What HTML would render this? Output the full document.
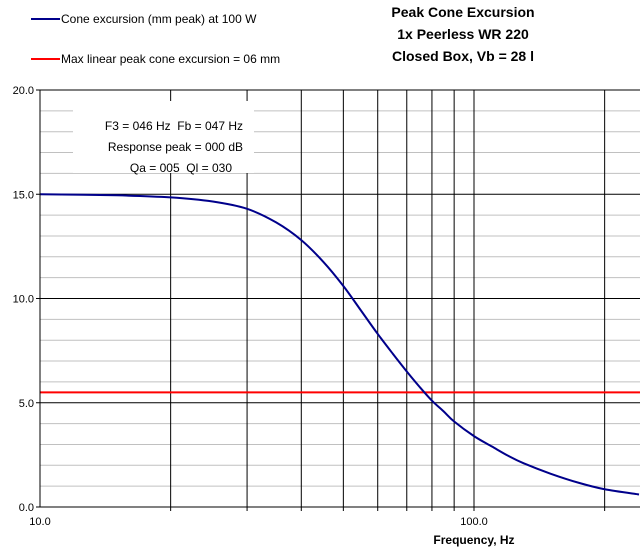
<!DOCTYPE html>
<html><head><meta charset="utf-8"><style>
html,body{margin:0;padding:0;background:#fff;}
svg{display:block;font-family:"Liberation Sans",Arial,sans-serif;}
text{white-space:pre;}
</style></head><body>
<svg id="chart" width="640" height="551" viewBox="0 0 640 551" xmlns="http://www.w3.org/2000/svg" xml:space="preserve">
<g>
<line x1="31" y1="19" x2="60" y2="19" stroke="#00008b" stroke-width="2"/>
<text x="61" y="23" font-size="12">Cone excursion (mm peak) at 100 W</text>
<line x1="31" y1="59" x2="60" y2="59" stroke="#ff0000" stroke-width="2"/>
<text x="61" y="63" font-size="12">Max linear peak cone excursion = 06 mm</text>
</g>
<g font-size="14" font-weight="bold" text-anchor="middle">
<text x="463" y="17">Peak Cone Excursion</text>
<text x="463" y="39">1x Peerless WR 220</text>
<text x="463" y="61">Closed Box, Vb = 28 l</text>
</g>
<g id="grid"></g>
<rect x="73" y="101" width="181" height="72" fill="#fff"/>
<g font-size="12" text-anchor="end">
<text x="243" y="130">F3 = 046 Hz  Fb = 047 Hz</text>
<text x="243" y="151">Response peak = 000 dB</text>
<text x="232" y="172">Qa = 005  Ql = 030</text>
</g>
<g id="series"></g>
<g id="axes"></g>
<text x="474" y="544" font-size="12" font-weight="bold" text-anchor="middle">Frequency, Hz</text>
</svg>
<script>
const freqs = [10,15,20,25,30,35,40,45,50,55,60,65,70,75,80,85,90,100,110,120,130,150,175,200,240];
const excursion = [15.0,14.95,14.85,14.65,14.3,13.65,12.8,11.75,10.6,9.4,8.3,7.35,6.5,5.75,5.1,4.6,4.1,3.4,2.9,2.45,2.1,1.6,1.15,0.85,0.6];
const xmaxLimit = 5.5;
const yTicks = [0,5,10,15,20];
const yTickLabels = ["0.0","5.0","10.0","15.0","20.0"];
const xGrid = [20,30,40,50,60,70,80,90,100,200];
const xTickLabels = ["10.0","100.0"];
const xTickVals = [10,100];

const L=40,R=640,T=90,B=507;
const xs=f=>L+434*Math.log10(f/10);
const ys=v=>B-(v/20)*(B-T);
const NS="http://www.w3.org/2000/svg";
function mk(p,tag,a){const e=document.createElementNS(NS,tag);for(const k in a)e.setAttribute(k,a[k]);p.appendChild(e);return e;}
const grid=document.getElementById('grid'),axes=document.getElementById('axes'),series=document.getElementById('series');
for(let v=1;v<20;v++){if(v%5===0)continue;const l=mk(grid,'line',{x1:L,x2:R,y1:ys(v),y2:ys(v),stroke:'#c0c0c0','stroke-width':1});

}
yTicks.forEach((v,i)=>{const l=mk(grid,'line',{x1:L-4,x2:R,y1:ys(v),y2:ys(v),stroke:'#000','stroke-width':1});


const t=mk(axes,'text',{x:L-6,y:ys(v)+4,'font-size':11,'text-anchor':'end'});t.textContent=yTickLabels[i];

});
xGrid.forEach(f=>{const l=mk(grid,'line',{x1:xs(f),x2:xs(f),y1:T,y2:B+4,stroke:'#000','stroke-width':1});

});
xTickVals.forEach((f,i)=>{const t=mk(axes,'text',{x:xs(f),y:B+18,'font-size':11,'text-anchor':'middle'});t.textContent=xTickLabels[i];

});
const ax=mk(axes,'line',{x1:L,x2:L,y1:T,y2:B,stroke:'#000','stroke-width':1});


const rl=mk(series,'line',{x1:L,x2:R,y1:ys(xmaxLimit),y2:ys(xmaxLimit),stroke:'#ff0000','stroke-width':2});


const P=freqs.map((f,i)=>[xs(f),ys(excursion[i])]);
let d='M'+P[0][0]+','+P[0][1];
for(let i=0;i<P.length-1;i++){const p0=P[i-1]||P[i],p1=P[i],p2=P[i+1],p3=P[i+2]||P[i+1];
d+=' C'+(p1[0]+(p2[0]-p0[0])/6)+','+(p1[1]+(p2[1]-p0[1])/6)+' '+(p2[0]-(p3[0]-p1[0])/6)+','+(p2[1]-(p3[1]-p1[1])/6)+' '+p2[0]+','+p2[1];}
const c=mk(series,'path',{d:d,fill:'none',stroke:'#00008b','stroke-width':2});


</script>
</body></html>
